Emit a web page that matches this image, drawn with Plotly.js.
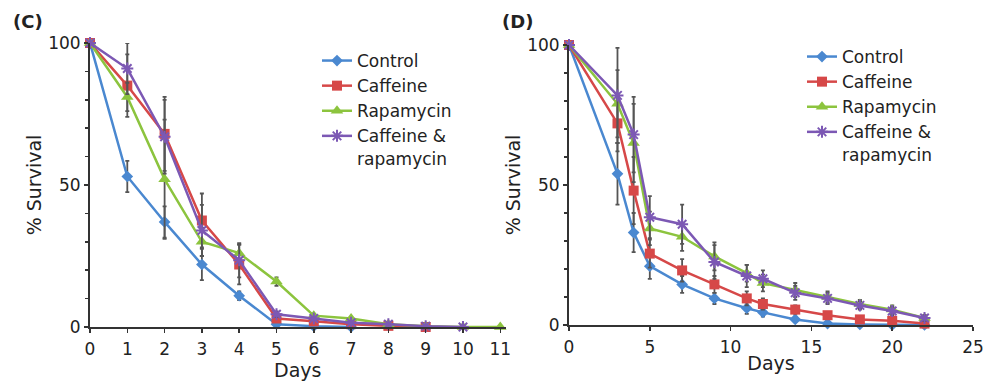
<!DOCTYPE html>
<html>
<head>
<meta charset="utf-8">
<script src="https://cdn.plot.ly/plotly-3.0.1.min.js"></script>
<style>html,body{margin:0;padding:0;background:#fff}#chart{width:994px;height:381px}</style>
</head>
<body>
<div id="chart"></div>
<script>
// ---- Panel C data ----
const seriesNames = ["Control", "Caffeine", "Rapamycin", "Caffeine &<br>rapamycin"];

const daysC_control = [0, 1, 2, 3, 4, 5, 6, 7];
const survC_control = [100, 53, 37, 22, 11, 1, 0.3, 0];
const errC_control  = [0, 5.5, 5.5, 5.5, 1.5, 0.5, 0, 0];

const daysC_caffeine = [0, 1, 2, 3, 4, 5, 6, 7, 8, 9];
const survC_caffeine = [100, 85, 68, 37.5, 22, 3, 2, 1, 0.4, 0];
const errC_caffeine  = [0, 11, 13, 9.5, 7, 1, 0.5, 0.3, 0, 0];

const daysC_rapamycin = [0, 1, 2, 3, 4, 5, 6, 7, 8, 9, 10, 11];
const survC_rapamycin = [100, 81, 52, 30, 26, 16, 4, 3, 1, 0.3, 0, 0];
const errC_rapamycin  = [0, 5, 21, 5, 3, 1.5, 0.5, 0.5, 0.3, 0, 0, 0];

const daysC_combo = [0, 1, 2, 3, 4, 5, 6, 7, 8, 9, 10];
const survC_combo = [100, 91, 67, 34, 23.5, 4.5, 3, 1.5, 1, 0.3, 0];
const errC_combo  = [0, 9, 13, 9, 6, 1, 0.5, 0.3, 0.3, 0, 0];

// ---- Panel D data ----
const daysD = [0, 3, 4, 5, 7, 9, 11, 12, 14, 16, 18, 20, 22];
const survD_control   = [100, 54, 33, 21, 14.5, 9.5, 6, 4.5, 2, 0.5, 0.2, 0, 0];
const errD_control    = [0, 11, 7, 4.5, 3, 2, 2, 1.5, 1, 0.5, 0.3, 0, 0];
const survD_caffeine  = [100, 72, 48, 25.5, 19.5, 14.5, 9.5, 7.5, 5.5, 3.5, 2, 1.5, 0.5];
const errD_caffeine   = [0, 10, 12, 5, 4, 3, 2.5, 2, 1.5, 1, 1, 0.5, 0.5];
const survD_rapamycin = [100, 79, 65, 34.5, 31.5, 24.5, 18.5, 15, 12.5, 10, 7.5, 5.5, 2.5];
const errD_rapamycin  = [0, 12, 14, 6, 5, 5, 3, 3, 2.5, 2, 1.5, 1.5, 1];
const survD_combo     = [100, 82, 68, 38.5, 36, 22.5, 17.5, 16.5, 11.5, 9.5, 7, 5, 2.5];
const errD_combo      = [0, 17, 13.5, 7.5, 7, 6, 4, 3, 2.5, 2, 1.5, 1.5, 1];

const colors  = ["#4a88d0", "#d64848", "#8cc43e", "#7c58b4"];
const symbols = ["diamond", "square", "triangle-up", "asterisk-open"];
const msizes  = [9, 10, 11, 10];

function mk(i, x, y, err, xa, ya, leg) {
  return {
    type: "scatter", mode: "lines+markers",
    x: x, y: y, name: seriesNames[i],
    xaxis: xa, yaxis: ya, legend: leg, cliponaxis: false,
    line: {color: colors[i], width: 2.5},
    marker: {symbol: symbols[i], size: msizes[i], color: colors[i],
             line: {color: colors[i], width: i === 3 ? 2 : 0}},
    error_y: {type: "data", array: err, visible: true, color: "#555", thickness: 1.8, width: 2}
  };
}

const data = [
  mk(0, daysC_control, survC_control, errC_control, "x", "y", "legend"),
  mk(1, daysC_caffeine, survC_caffeine, errC_caffeine, "x", "y", "legend"),
  mk(2, daysC_rapamycin, survC_rapamycin, errC_rapamycin, "x", "y", "legend"),
  mk(3, daysC_combo, survC_combo, errC_combo, "x", "y", "legend"),
  mk(0, daysD, survD_control, errD_control, "x2", "y2", "legend2"),
  mk(1, daysD, survD_caffeine, errD_caffeine, "x2", "y2", "legend2"),
  mk(2, daysD, survD_rapamycin, errD_rapamycin, "x2", "y2", "legend2"),
  mk(3, daysD, survD_combo, errD_combo, "x2", "y2", "legend2")
];

const W = 994, H = 381;
const FONT = "DejaVu Sans";
const tickFont = {family: FONT, size: 17, color: "#222"};
const titleFont = {family: FONT, size: 19, color: "#222"};

function xax(domain, range, dtick) {
  return {
    domain: domain, range: range, dtick: dtick, tick0: 0,
    showline: true, linecolor: "#333", linewidth: 2,
    ticks: "outside", ticklen: 4, tickwidth: 1.5, tickcolor: "#333",
    showgrid: false, zeroline: false, tickfont: tickFont,
    ticklabelstandoff: 2,
    title: {text: "Days", font: titleFont, standoff: 0}
  };
}
function yax(domain, anchor) {
  return {
    domain: domain, range: [0, 100], dtick: 50, tick0: 0, anchor: anchor,
    showline: true, linecolor: "#333", linewidth: 2,
    ticks: "outside", ticklen: 4, tickwidth: 1.5, tickcolor: "#333",
    minor: {dtick: 10, ticks: "outside", ticklen: 3, tickwidth: 1.5, tickcolor: "#333"},
    showgrid: false, zeroline: false, tickfont: tickFont,
    title: {text: "% Survival", font: titleFont, standoff: 1}
  };
}

const layout = {
  width: W, height: H,
  margin: {l: 0, r: 0, t: 0, b: 0},
  paper_bgcolor: "#fff", plot_bgcolor: "#fff",
  font: {family: FONT, color: "#222"},
  xaxis:  Object.assign(xax([90 / W, 505.5 / W], [0, 11.14], 1), {anchor: "y"}),
  yaxis:  yax([(H - 327) / H, (H - 43) / H], "x"),
  xaxis2: Object.assign(xax([569 / W, 973 / W], [0, 25], 5), {anchor: "y2"}),
  yaxis2: yax([(H - 325) / H, (H - 45) / H], "x2"),
  legend: {
    x: 317 / W, y: 1 - 43 / H, xanchor: "left", yanchor: "top",
    font: {family: FONT, size: 17, color: "#222"}, bgcolor: "rgba(0,0,0,0)",
    valign: "top", itemwidth: 30, tracegroupgap: 0
  },
  legend2: {
    x: 802 / W, y: 1 - 39 / H, xanchor: "left", yanchor: "top",
    font: {family: FONT, size: 17, color: "#222"}, bgcolor: "rgba(0,0,0,0)",
    valign: "top", itemwidth: 30, tracegroupgap: 0
  },
  annotations: [
    {text: "<b>(C)</b>", xref: "paper", yref: "paper", x: 28 / W, y: 1 - 22 / H,
     xanchor: "center", yanchor: "middle",
     showarrow: false, font: {family: FONT, size: 18, color: "#222"}},
    {text: "<b>(D)</b>", xref: "paper", yref: "paper", x: 517 / W, y: 1 - 22 / H,
     xanchor: "center", yanchor: "middle",
     showarrow: false, font: {family: FONT, size: 18, color: "#222"}}
  ]
};

Plotly.newPlot("chart", data, layout, {displayModeBar: false, staticPlot: true});
</script>
</body>
</html>
